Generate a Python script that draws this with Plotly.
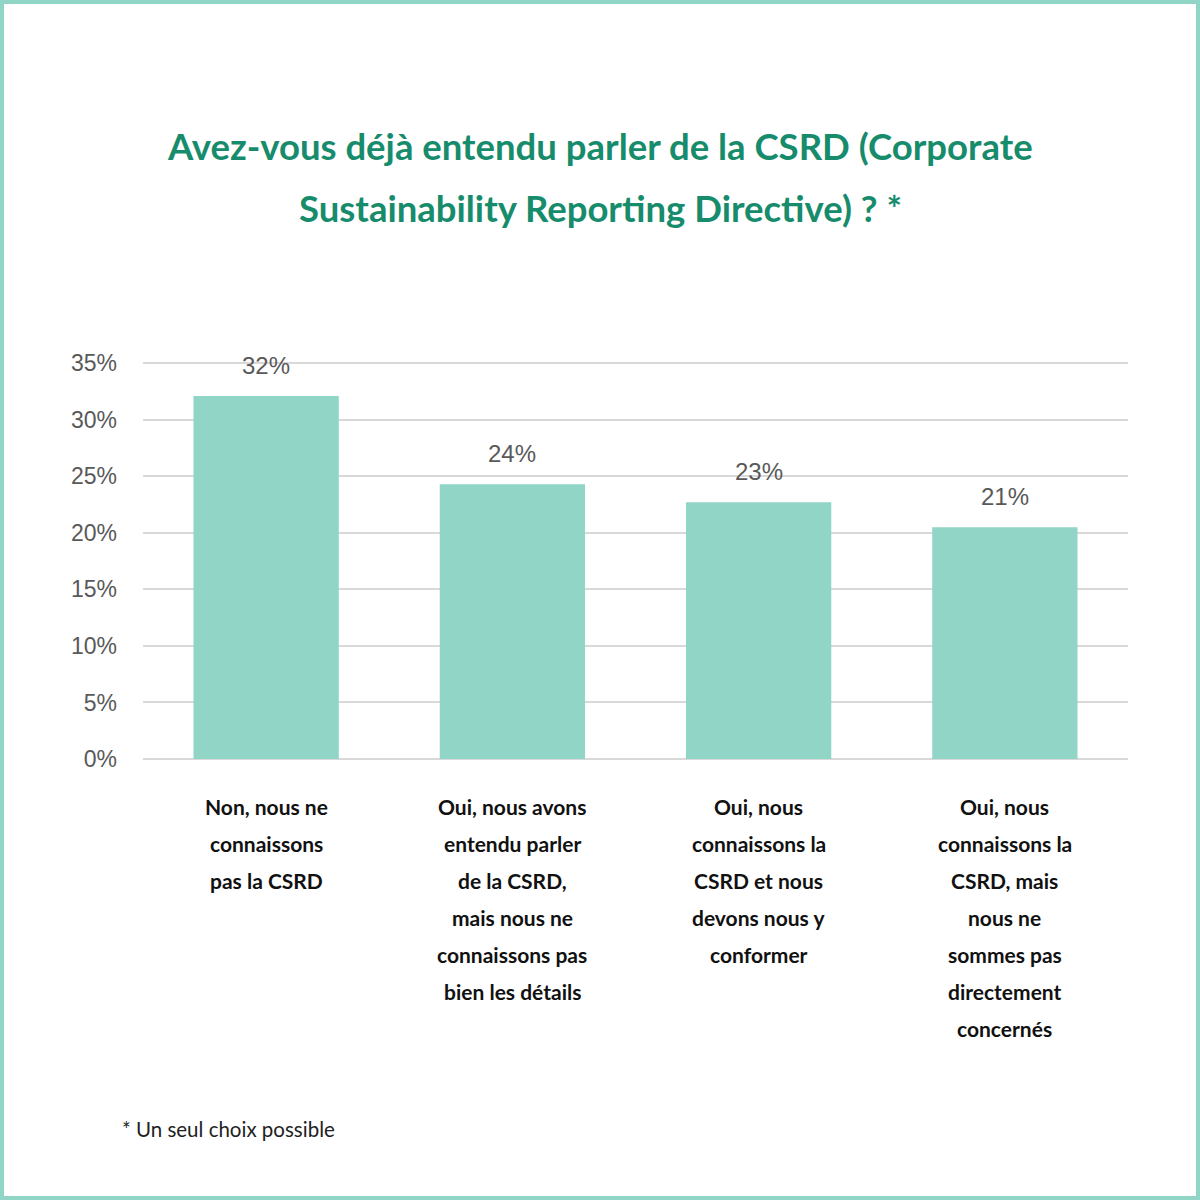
import plotly.graph_objects as go

categories = [
    "Non, nous ne<br>connaissons<br>pas la CSRD",
    "Oui, nous avons<br>entendu parler<br>de la CSRD,<br>mais nous ne<br>connaissons pas<br>bien les détails",
    "Oui, nous<br>connaissons la<br>CSRD et nous<br>devons nous y<br>conformer",
    "Oui, nous<br>connaissons la<br>CSRD, mais<br>nous ne<br>sommes pas<br>directement<br>concernés",
]
values = [32.1, 24.3, 22.7, 20.5]
value_labels = ["32%", "24%", "23%", "21%"]
y_ticks = [0, 5, 10, 15, 20, 25, 30, 35]
y_tick_labels = ["0%", "5%", "10%", "15%", "20%", "25%", "30%", "35%"]
title_lines = ["Avez-vous déjà entendu parler de la CSRD (Corporate",
               "Sustainability Reporting Directive) ? *"]
footnote = "* Un seul choix possible"

cat_ids = [f"c{i}" for i in range(len(categories))]

BAR = "#91d5c6"
GREEN = "#178c6c"
GRAY = "#595959"

fig = go.Figure(go.Bar(x=cat_ids, y=values, marker=dict(color=BAR, line=dict(width=0)),
                       hoverinfo="skip"))

L, R, T, B = 143, 72, 361, 441
PW, PH = 1200 - L - R, 1200 - T - B

annotations = []
for cid, v, lab in zip(cat_ids, values, value_labels):
    annotations.append(dict(x=cid, y=v, xref="x", yref="y", text=lab, showarrow=False,
                            yanchor="bottom", yshift=15,
                            font=dict(family="Liberation Sans, Arial", size=24, color=GRAY)))
for cid, cat in zip(cat_ids, categories):
    for i, line in enumerate(cat.split("<br>")):
        annotations.append(dict(x=cid, y=0, xref="x", yref="y", text=line, showarrow=False,
                                yanchor="middle", yshift=-(47 + i * 37),
                                font=dict(family="Lato", size=21, color="#111111", weight="bold")))


def px_to_paper_x(px):
    return (px - L) / PW


def px_to_paper_y(py):
    return (1200 - B - py) / PH


for i, line in enumerate(title_lines):
    annotations.append(dict(x=px_to_paper_x(600), y=px_to_paper_y(146 + i * 62), xref="paper", yref="paper",
                            text=line, showarrow=False, xanchor="center", yanchor="middle",
                            font=dict(family="Lato", size=36.5, color=GREEN, weight="bold")))
annotations.append(dict(x=px_to_paper_x(120), y=px_to_paper_y(1129), xref="paper", yref="paper",
                        text=footnote, showarrow=False, xanchor="left", yanchor="middle",
                        font=dict(family="Lato", size=20.5, color="#222222")))

fig.update_layout(
    width=1200, height=1200,
    margin=dict(l=L, r=R, t=T, b=B, pad=0),
    paper_bgcolor="white", plot_bgcolor="white",
    bargap=0.41,
    showlegend=False,
    annotations=annotations,
    shapes=[dict(type="rect", xref="paper", yref="paper",
                 x0=px_to_paper_x(2), x1=px_to_paper_x(1198),
                 y0=px_to_paper_y(1198), y1=px_to_paper_y(2),
                 line=dict(color=BAR, width=4), fillcolor="rgba(0,0,0,0)", layer="below")],
    xaxis=dict(showticklabels=False, showgrid=False, zeroline=False, showline=False,
               ticks="", fixedrange=True),
    yaxis=dict(range=[0, 35.2], tickvals=y_ticks, ticktext=y_tick_labels,
               showgrid=True, gridcolor="#d9d9d9", gridwidth=2,
               zeroline=True, zerolinecolor="#d9d9d9", zerolinewidth=2,
               showline=False, ticks="", ticklabelstandoff=25,
               tickfont=dict(family="Liberation Sans, Arial", size=23, color=GRAY)),
)

fig.write_html("out.html")
